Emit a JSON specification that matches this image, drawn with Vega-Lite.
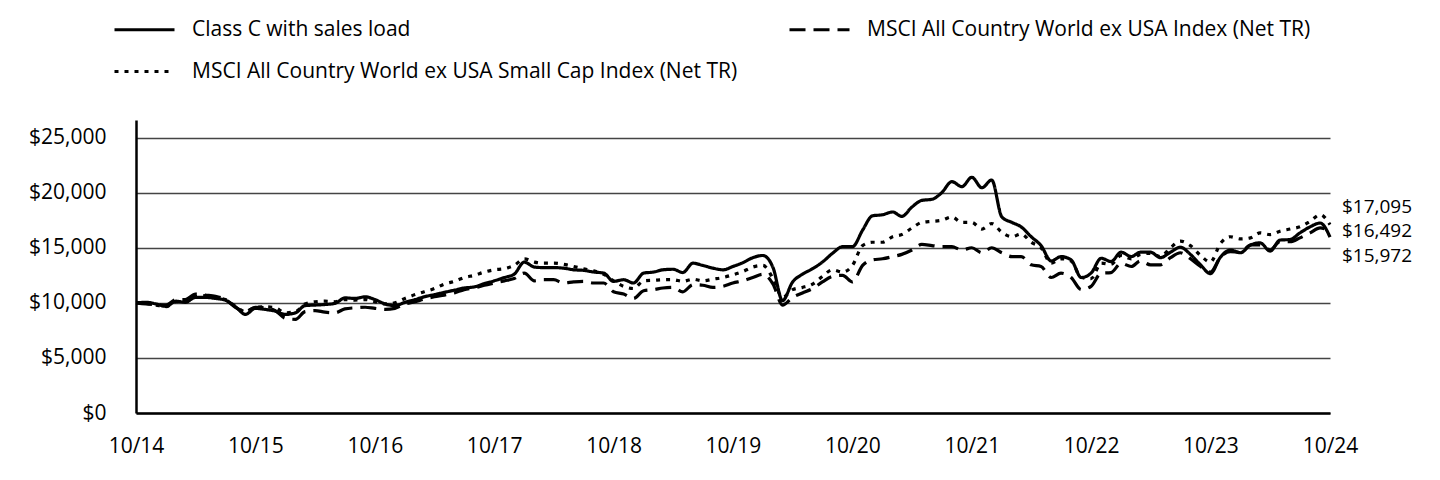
{
  "$schema": "https://vega.github.io/schema/vega-lite/v6.json",
  "autosize": {"type": "none"},
  "padding": {"left": 136, "top": 120, "right": 110, "bottom": 67},
  "width": 1194,
  "height": 293,
  "background": "white",
  "config": {
    "view": {"stroke": null},
    "font": "Open Sans",
    "axis": {"labelFont": "Open Sans", "labelFontSize": 21, "labelColor": "black", "title": null, "ticks": false}
  },
  "data": {
    "values": [
      {"d": "2014-10-01", "c": 10000, "a": 10000, "s": 10000},
      {"d": "2014-11-01", "c": 10050, "a": 9900, "s": 9950},
      {"d": "2014-12-01", "c": 9900, "a": 9850, "s": 9800},
      {"d": "2015-01-01", "c": 9680, "a": 9800, "s": 9650},
      {"d": "2015-02-01", "c": 10150, "a": 10300, "s": 10100},
      {"d": "2015-03-01", "c": 10050, "a": 10300, "s": 10100},
      {"d": "2015-04-01", "c": 10500, "a": 10800, "s": 10550},
      {"d": "2015-05-01", "c": 10500, "a": 10700, "s": 10650},
      {"d": "2015-06-01", "c": 10400, "a": 10600, "s": 10500},
      {"d": "2015-07-01", "c": 10250, "a": 10300, "s": 10300},
      {"d": "2015-08-01", "c": 9650, "a": 9600, "s": 9700},
      {"d": "2015-09-01", "c": 8950, "a": 9200, "s": 9200},
      {"d": "2015-10-01", "c": 9500, "a": 9600, "s": 9600},
      {"d": "2015-11-01", "c": 9400, "a": 9550, "s": 9650},
      {"d": "2015-12-01", "c": 9250, "a": 9300, "s": 9550},
      {"d": "2016-01-01", "c": 8950, "a": 8600, "s": 9100},
      {"d": "2016-02-01", "c": 9100, "a": 8500, "s": 9200},
      {"d": "2016-03-01", "c": 9750, "a": 9200, "s": 9900},
      {"d": "2016-04-01", "c": 9800, "a": 9300, "s": 10100},
      {"d": "2016-05-01", "c": 9850, "a": 9150, "s": 10150},
      {"d": "2016-06-01", "c": 9950, "a": 9100, "s": 10100},
      {"d": "2016-07-01", "c": 10450, "a": 9450, "s": 10300},
      {"d": "2016-08-01", "c": 10400, "a": 9550, "s": 10250},
      {"d": "2016-09-01", "c": 10550, "a": 9600, "s": 10300},
      {"d": "2016-10-01", "c": 10300, "a": 9500, "s": 10100},
      {"d": "2016-11-01", "c": 9900, "a": 9400, "s": 9900},
      {"d": "2016-12-01", "c": 9750, "a": 9500, "s": 10000},
      {"d": "2017-01-01", "c": 10050, "a": 9900, "s": 10400},
      {"d": "2017-02-01", "c": 10300, "a": 10100, "s": 10750},
      {"d": "2017-03-01", "c": 10550, "a": 10350, "s": 11000},
      {"d": "2017-04-01", "c": 10750, "a": 10550, "s": 11300},
      {"d": "2017-05-01", "c": 10950, "a": 10700, "s": 11700},
      {"d": "2017-06-01", "c": 11150, "a": 10900, "s": 11950},
      {"d": "2017-07-01", "c": 11350, "a": 11200, "s": 12300},
      {"d": "2017-08-01", "c": 11450, "a": 11350, "s": 12500},
      {"d": "2017-09-01", "c": 11750, "a": 11600, "s": 12800},
      {"d": "2017-10-01", "c": 12000, "a": 11800, "s": 13000},
      {"d": "2017-11-01", "c": 12300, "a": 12000, "s": 13100},
      {"d": "2017-12-01", "c": 12600, "a": 12200, "s": 13400},
      {"d": "2018-01-01", "c": 13700, "a": 12700, "s": 14000},
      {"d": "2018-02-01", "c": 13250, "a": 12000, "s": 13700},
      {"d": "2018-03-01", "c": 13200, "a": 12100, "s": 13600},
      {"d": "2018-04-01", "c": 13200, "a": 12100, "s": 13600},
      {"d": "2018-05-01", "c": 13150, "a": 11800, "s": 13500},
      {"d": "2018-06-01", "c": 13000, "a": 11900, "s": 13300},
      {"d": "2018-07-01", "c": 12950, "a": 11950, "s": 13100},
      {"d": "2018-08-01", "c": 12800, "a": 11800, "s": 12900},
      {"d": "2018-09-01", "c": 12700, "a": 11800, "s": 12600},
      {"d": "2018-10-01", "c": 11950, "a": 11000, "s": 12000},
      {"d": "2018-11-01", "c": 12100, "a": 10800, "s": 11500},
      {"d": "2018-12-01", "c": 11800, "a": 10400, "s": 11300},
      {"d": "2019-01-01", "c": 12700, "a": 11100, "s": 12000},
      {"d": "2019-02-01", "c": 12800, "a": 11200, "s": 12050},
      {"d": "2019-03-01", "c": 13000, "a": 11350, "s": 12100},
      {"d": "2019-04-01", "c": 13050, "a": 11400, "s": 12100},
      {"d": "2019-05-01", "c": 12750, "a": 11000, "s": 11950},
      {"d": "2019-06-01", "c": 13600, "a": 11650, "s": 12150},
      {"d": "2019-07-01", "c": 13400, "a": 11600, "s": 12000},
      {"d": "2019-08-01", "c": 13150, "a": 11400, "s": 12150},
      {"d": "2019-09-01", "c": 13000, "a": 11500, "s": 12300},
      {"d": "2019-10-01", "c": 13300, "a": 11800, "s": 12550},
      {"d": "2019-11-01", "c": 13650, "a": 12000, "s": 12850},
      {"d": "2019-12-01", "c": 14100, "a": 12300, "s": 13250},
      {"d": "2020-01-01", "c": 14300, "a": 12600, "s": 13400},
      {"d": "2020-02-01", "c": 13200, "a": 11700, "s": 12200},
      {"d": "2020-03-01", "c": 10200, "a": 9800, "s": 10500},
      {"d": "2020-04-01", "c": 11900, "a": 10500, "s": 11200},
      {"d": "2020-05-01", "c": 12600, "a": 10900, "s": 11400},
      {"d": "2020-06-01", "c": 13100, "a": 11300, "s": 11700},
      {"d": "2020-07-01", "c": 13700, "a": 11900, "s": 12400},
      {"d": "2020-08-01", "c": 14500, "a": 12400, "s": 13000},
      {"d": "2020-09-01", "c": 15100, "a": 12500, "s": 12800},
      {"d": "2020-10-01", "c": 15100, "a": 11900, "s": 13400},
      {"d": "2020-11-01", "c": 16600, "a": 13400, "s": 15200},
      {"d": "2020-12-01", "c": 17900, "a": 13900, "s": 15500},
      {"d": "2021-01-01", "c": 18000, "a": 14000, "s": 15500},
      {"d": "2021-02-01", "c": 18250, "a": 14200, "s": 16000},
      {"d": "2021-03-01", "c": 17850, "a": 14400, "s": 16200},
      {"d": "2021-04-01", "c": 18700, "a": 14800, "s": 16800},
      {"d": "2021-05-01", "c": 19300, "a": 15300, "s": 17300},
      {"d": "2021-06-01", "c": 19400, "a": 15200, "s": 17400},
      {"d": "2021-07-01", "c": 20000, "a": 15100, "s": 17500},
      {"d": "2021-08-01", "c": 21000, "a": 15100, "s": 17800},
      {"d": "2021-09-01", "c": 20550, "a": 14800, "s": 17300},
      {"d": "2021-10-01", "c": 21400, "a": 15000, "s": 17300},
      {"d": "2021-11-01", "c": 20450, "a": 14550, "s": 16700},
      {"d": "2021-12-01", "c": 21150, "a": 15000, "s": 17200},
      {"d": "2022-01-01", "c": 17800, "a": 14550, "s": 16400},
      {"d": "2022-02-01", "c": 17300, "a": 14200, "s": 16000},
      {"d": "2022-03-01", "c": 16900, "a": 14200, "s": 16250},
      {"d": "2022-04-01", "c": 16000, "a": 13450, "s": 15500},
      {"d": "2022-05-01", "c": 15200, "a": 13300, "s": 15000},
      {"d": "2022-06-01", "c": 13800, "a": 12300, "s": 13600},
      {"d": "2022-07-01", "c": 14200, "a": 12700, "s": 14000},
      {"d": "2022-08-01", "c": 13900, "a": 12300, "s": 13800},
      {"d": "2022-09-01", "c": 12300, "a": 11200, "s": 12300},
      {"d": "2022-10-01", "c": 12700, "a": 11500, "s": 12200},
      {"d": "2022-11-01", "c": 14050, "a": 12700, "s": 13600},
      {"d": "2022-12-01", "c": 13750, "a": 12750, "s": 13500},
      {"d": "2023-01-01", "c": 14600, "a": 13600, "s": 14300},
      {"d": "2023-02-01", "c": 14200, "a": 13300, "s": 14000},
      {"d": "2023-03-01", "c": 14600, "a": 13800, "s": 14400},
      {"d": "2023-04-01", "c": 14600, "a": 13450, "s": 14500},
      {"d": "2023-05-01", "c": 14100, "a": 13450, "s": 14200},
      {"d": "2023-06-01", "c": 14600, "a": 14100, "s": 15000},
      {"d": "2023-07-01", "c": 15050, "a": 14550, "s": 15600},
      {"d": "2023-08-01", "c": 14400, "a": 14000, "s": 15200},
      {"d": "2023-09-01", "c": 13450, "a": 13300, "s": 14300},
      {"d": "2023-10-01", "c": 12650, "a": 12800, "s": 13700},
      {"d": "2023-11-01", "c": 14150, "a": 14150, "s": 15400},
      {"d": "2023-12-01", "c": 14800, "a": 14650, "s": 16000},
      {"d": "2024-01-01", "c": 14550, "a": 14600, "s": 15800},
      {"d": "2024-02-01", "c": 15250, "a": 15250, "s": 15900},
      {"d": "2024-03-01", "c": 15450, "a": 15250, "s": 16350},
      {"d": "2024-04-01", "c": 14700, "a": 14800, "s": 16200},
      {"d": "2024-05-01", "c": 15700, "a": 15550, "s": 16500},
      {"d": "2024-06-01", "c": 15750, "a": 15550, "s": 16700},
      {"d": "2024-07-01", "c": 16350, "a": 15900, "s": 16900},
      {"d": "2024-08-01", "c": 16900, "a": 16350, "s": 17400},
      {"d": "2024-09-01", "c": 17250, "a": 16800, "s": 18000},
      {"d": "2024-10-01", "c": 15972, "a": 16492, "s": 17095}
    ]
  },
  "encoding": {
    "x": {
      "field": "d",
      "type": "temporal",
      "scale": {
        "type": "utc",
        "domain": [
          {"year": 2014, "month": 10, "date": 1, "utc": true},
          {"year": 2024, "month": 10, "date": 1, "utc": true}
        ]
      },
      "axis": {
        "values": [
          {"year": 2014, "month": 10, "date": 1, "utc": true},
          {"year": 2015, "month": 10, "date": 1, "utc": true},
          {"year": 2016, "month": 10, "date": 1, "utc": true},
          {"year": 2017, "month": 10, "date": 1, "utc": true},
          {"year": 2018, "month": 10, "date": 1, "utc": true},
          {"year": 2019, "month": 10, "date": 1, "utc": true},
          {"year": 2020, "month": 10, "date": 1, "utc": true},
          {"year": 2021, "month": 10, "date": 1, "utc": true},
          {"year": 2022, "month": 10, "date": 1, "utc": true},
          {"year": 2023, "month": 10, "date": 1, "utc": true},
          {"year": 2024, "month": 10, "date": 1, "utc": true}
        ],
        "labelExpr": "utcFormat(datum.value, '%m/%y')",
        "grid": false,
        "domainColor": "black",
        "domainWidth": 2.5,
        "labelPadding": 22,
        "labelFlush": false,
        "labelOverlap": false
      }
    },
    "y": {
      "field": "v",
      "type": "quantitative",
      "scale": {"domain": [0, 26600], "nice": false, "zero": true},
      "axis": {
        "values": [0, 5000, 10000, 15000, 20000, 25000],
        "format": "$,.0f",
        "grid": true,
        "gridColor": "#444444",
        "gridWidth": 1.6,
        "domainColor": "black",
        "domainWidth": 2.5,
        "labelPadding": 30
      }
    }
  },
  "layer": [
    {
      "transform": [{"fold": ["c", "a", "s"], "as": ["k", "v"]}],
      "mark": {"type": "line", "strokeWidth": 3.2, "color": "black", "interpolate": "monotone"},
      "encoding": {
        "strokeDash": {
          "field": "k",
          "type": "nominal",
          "scale": {"domain": ["c", "s", "a"], "range": [[1, 0], [4, 6], [16, 8]]},
          "legend": {
            "orient": "none",
            "legendX": -23,
            "legendY": -122,
            "columns": 2,
            "columnPadding": 45,
            "rowPadding": 0,
            "padding": 0,
            "title": null,
            "symbolType": "stroke",
            "symbolSize": 3600,
            "symbolStrokeWidth": 3,
            "symbolStrokeColor": "black",
            "labelFont": "Open Sans",
            "labelFontSize": 21,
            "labelColor": "black",
            "labelOffset": 16,
            "labelLimit": 0,
            "labelExpr": "datum.value == 'c' ? 'Class C with sales load' : datum.value == 'a' ? 'MSCI All Country World ex USA Index (Net TR)' : 'MSCI All Country World ex USA Small Cap Index (Net TR)'"
          }
        }
      }
    },
    {
      "data": {"values": [{"d": "2024-10-01", "v": 17095}]},
      "mark": {"type": "text", "align": "left", "baseline": "middle", "dx": 12, "dy": -18, "fontSize": 19, "font": "Open Sans", "color": "black"},
      "encoding": {"text": {"field": "v", "type": "quantitative", "format": "$,.0f"}}
    },
    {
      "data": {"values": [{"d": "2024-10-01", "v": 16492}]},
      "mark": {"type": "text", "align": "left", "baseline": "middle", "dx": 12, "dy": 0, "fontSize": 19, "font": "Open Sans", "color": "black"},
      "encoding": {"text": {"field": "v", "type": "quantitative", "format": "$,.0f"}}
    },
    {
      "data": {"values": [{"d": "2024-10-01", "v": 15972}]},
      "mark": {"type": "text", "align": "left", "baseline": "middle", "dx": 12, "dy": 19, "fontSize": 19, "font": "Open Sans", "color": "black"},
      "encoding": {"text": {"field": "v", "type": "quantitative", "format": "$,.0f"}}
    }
  ]
}
